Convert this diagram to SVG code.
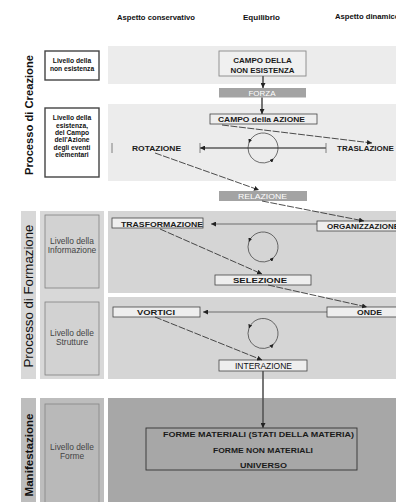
<svg xmlns="http://www.w3.org/2000/svg" width="396" height="502" viewBox="0 0 396 502">
<style>
text{font-family:"Liberation Sans",Arial,sans-serif;fill:#111}
.h{font-size:7.7px;font-weight:bold}
.b{font-size:8px;font-weight:bold;fill:#1a1a1a}
.w{font-size:8px;fill:#fff}
.lb{font-size:6.7px;font-weight:bold;text-anchor:middle}
.lr{font-size:8.4px;text-anchor:middle;fill:#444}
.box{fill:#eeeeee;stroke:#444;stroke-width:0.8}
.gbox{fill:#a3a3a3}
.dash{fill:none;stroke:#222;stroke-width:0.8;stroke-dasharray:7 1.5}
.thin{fill:none;stroke:#444;stroke-width:0.7}
.thick{fill:none;stroke:#555;stroke-width:1.6}
.circ{fill:none;stroke:#333;stroke-width:0.7}
</style>
<defs>
<marker id="ah" viewBox="0 0 10 10" refX="10" refY="5" markerWidth="5" markerHeight="5" orient="auto" markerUnits="userSpaceOnUse"><path d="M0,0 L10,5 L0,10 z" fill="#222"/></marker>
<marker id="ahs" viewBox="0 0 10 10" refX="10" refY="5" markerWidth="4" markerHeight="4" orient="auto" markerUnits="userSpaceOnUse"><path d="M0,0 L10,5 L0,10 z" fill="#222"/></marker>
</defs>
<rect width="396" height="502" fill="#fff"/>
<g id="bands">
<rect x="108" y="46" width="288" height="38" fill="#ececec"/>
<rect x="108" y="104" width="288" height="77" fill="#ececec"/>
<rect x="108" y="211" width="288" height="82" fill="#d5d5d5"/>
<rect x="108" y="297" width="288" height="82" fill="#d5d5d5"/>
<rect x="108" y="398" width="288" height="104" fill="#a7a7a7"/>
<rect x="21" y="211" width="15" height="168" fill="#d8d8d8"/>
<rect x="40" y="211" width="64" height="168" fill="#d8d8d8"/>
<rect x="21" y="398" width="15" height="104" fill="#bdbdbd"/>
<rect x="40" y="398" width="64" height="104" fill="#bdbdbd"/>
</g>
<g id="header">
<text class="h" x="117" y="20" textLength="78" lengthAdjust="spacingAndGlyphs">Aspetto conservativo</text>
<text class="h" x="243" y="20" textLength="37" lengthAdjust="spacingAndGlyphs">Equilibrio</text>
<text class="h" x="335" y="19">Aspetto dinamico</text>
</g>
<g id="side-labels">
<text transform="translate(33,115) rotate(-90)" text-anchor="middle" font-size="11" font-weight="bold" textLength="120" lengthAdjust="spacingAndGlyphs">Processo di Creazione</text>
<text transform="translate(33,296) rotate(-90)" text-anchor="middle" font-size="13" fill="#333" textLength="143" lengthAdjust="spacingAndGlyphs">Processo di Formazione</text>
<text transform="translate(33,455) rotate(-90)" text-anchor="middle" font-size="11.5" font-weight="bold" textLength="83" lengthAdjust="spacingAndGlyphs">Manifestazione</text>
</g>
<g id="lv-nonesistenza">
<rect x="45" y="51" width="54" height="29" fill="#fff" stroke="#444" stroke-width="1.4"/>
<text class="lb" x="72" y="63">Livello della</text>
<text class="lb" x="72" y="71">non esistenza</text>
</g>
<g id="lv-esistenza">
<rect x="45" y="108" width="54" height="69" fill="#fff" stroke="#444" stroke-width="1.4"/>
<text class="lb" x="72" y="120">Livello della</text>
<text class="lb" x="72" y="127.5">esistenza,</text>
<text class="lb" x="72" y="135">del Campo</text>
<text class="lb" x="72" y="142">dell'Azione</text>
<text class="lb" x="72" y="149.5">degli eventi</text>
<text class="lb" x="72" y="157">elementari</text>
</g>
<g id="lv-informazione">
<rect x="45" y="215" width="54" height="73" fill="#d2d2d2" stroke="#808080" stroke-width="0.8"/>
<text class="lr" x="72" y="244">Livello della</text>
<text class="lr" x="72" y="253">Informazione</text>
</g>
<g id="lv-strutture">
<rect x="45" y="302" width="54" height="73" fill="#d2d2d2" stroke="#808080" stroke-width="0.8"/>
<text class="lr" x="72" y="336">Livello delle</text>
<text class="lr" x="72" y="345">Strutture</text>
</g>
<g id="lv-forme">
<rect x="45" y="404" width="54" height="110" fill="#b9b9b9" stroke="#858585" stroke-width="0.8"/>
<text class="lr" x="72" y="450">Livello delle</text>
<text class="lr" x="72" y="459">Forme</text>
</g>
<g id="campo-non-esistenza">
<rect x="219" y="51" width="87" height="25" fill="#f0f0f0" stroke="#888" stroke-width="0.9"/>
<text class="b" x="262.5" y="63" text-anchor="middle" font-size="7.6">CAMPO DELLA</text>
<text class="b" x="262.5" y="73" text-anchor="middle" font-size="7.6" textLength="64" lengthAdjust="spacingAndGlyphs">NON ESISTENZA</text>
</g>
<g id="forza">
<rect class="gbox" x="219" y="88" width="87" height="9.5"/>
<text class="w" x="262" y="95.5" text-anchor="middle" textLength="27" lengthAdjust="spacingAndGlyphs">FORZA</text>
</g>
<g id="campo-azione">
<rect class="box" x="210" y="114" width="107" height="10" fill="#fafafa"/>
<text class="b" x="218" y="122" textLength="87" lengthAdjust="spacingAndGlyphs">CAMPO della AZIONE</text>
</g>
<g id="rotazione">
<text class="b" x="132" y="151" textLength="49" lengthAdjust="spacingAndGlyphs">ROTAZIONE</text>
</g>
<g id="traslazione">
<text class="b" x="337" y="151" font-size="8.8">TRASLAZIONE</text>
</g>
<g id="relazione">
<rect class="gbox" x="219" y="191" width="88" height="10"/>
<text class="w" x="238" y="199" textLength="49" lengthAdjust="spacingAndGlyphs">RELAZIONE</text>
</g>
<g id="trasformazione">
<rect class="box" x="112" y="218" width="91" height="10"/>
<text class="b" x="121" y="226.5" textLength="82" lengthAdjust="spacingAndGlyphs">TRASFORMAZIONE</text>
</g>
<g id="organizzazione">
<rect class="box" x="317" y="221" width="90" height="10"/>
<text class="b" x="327" y="229">ORGANIZZAZIONE</text>
</g>
<g id="selezione">
<rect class="box" x="215" y="275" width="96" height="10"/>
<text class="b" x="233" y="283" textLength="54" lengthAdjust="spacingAndGlyphs">SELEZIONE</text>
</g>
<g id="vortici">
<rect class="box" x="113" y="307" width="87" height="10" stroke="#666"/>
<text class="b" x="137" y="315" textLength="38" lengthAdjust="spacingAndGlyphs">VORTICI</text>
</g>
<g id="onde">
<rect class="box" x="327" y="307" width="80" height="10" stroke="#666"/>
<text class="b" x="357" y="315" textLength="25" lengthAdjust="spacingAndGlyphs">ONDE</text>
</g>
<g id="interazione">
<rect class="box" x="219" y="360" width="88" height="11" fill="#e2e2e2"/>
<text x="235" y="369" font-size="8.5" textLength="57" lengthAdjust="spacingAndGlyphs">INTERAZIONE</text>
</g>
<g id="forme">
<rect x="146" y="428" width="211" height="42" fill="none" stroke="#333" stroke-width="0.9"/>
<text class="b" x="163" y="437" textLength="191" lengthAdjust="spacingAndGlyphs">FORME MATERIALI (STATI DELLA MATERIA)</text>
<text class="b" x="213" y="453" textLength="100" lengthAdjust="spacingAndGlyphs">FORME NON MATERIALI</text>
<text class="b" x="240" y="468" textLength="47" lengthAdjust="spacingAndGlyphs">UNIVERSO</text>
</g>
<g id="connectors">
<path class="thick" d="M263 76 V88" marker-end="url(#ah)"/>
<path class="thick" d="M262 97.5 V114" marker-end="url(#ah)"/>
<path class="dash" d="M222 125 L372 143" marker-end="url(#ah)"/>
<path class="dash" d="M155 153 L259 190" marker-end="url(#ah)"/>
<path d="M326 148 L200 148" fill="none" stroke="#111" stroke-width="1.1" marker-end="url(#ah)"/>
<path d="M200 143 V153 M326 143 V153 M112 143 V153" fill="none" stroke="#666" stroke-width="0.8"/>
<path class="dash" d="M262 201 L364 221" marker-end="url(#ah)"/>
<path class="thin" d="M317 224 L211 224" marker-end="url(#ah)"/>
<path class="dash" d="M160 229 L262 274" marker-end="url(#ah)"/>
<path class="dash" d="M268 285 L367 307" marker-end="url(#ah)"/>
<path class="thin" d="M327 312 L203 312" marker-end="url(#ah)"/>
<path class="dash" d="M155 317 L262 360" marker-end="url(#ah)"/>
<path class="thick" d="M263 371 V428" marker-end="url(#ah)"/>
<path class="circ" d="M273.6 158.6 A15 15 0 1 0 248.9 142.9" marker-end="url(#ahs)"/>
<path class="circ" d="M248.9 142.9 A15 15 0 0 0 273.6 158.6" marker-end="url(#ahs)"/>
<path class="circ" d="M273.6 257.6 A15 15 0 1 0 248.9 241.9" marker-end="url(#ahs)"/>
<path class="circ" d="M248.9 241.9 A15 15 0 0 0 273.6 257.6" marker-end="url(#ahs)"/>
<path class="circ" d="M273.6 344.1 A15 15 0 1 0 248.9 328.4" marker-end="url(#ahs)"/>
<path class="circ" d="M248.9 328.4 A15 15 0 0 0 273.6 344.1" marker-end="url(#ahs)"/>
</g>
</svg>
